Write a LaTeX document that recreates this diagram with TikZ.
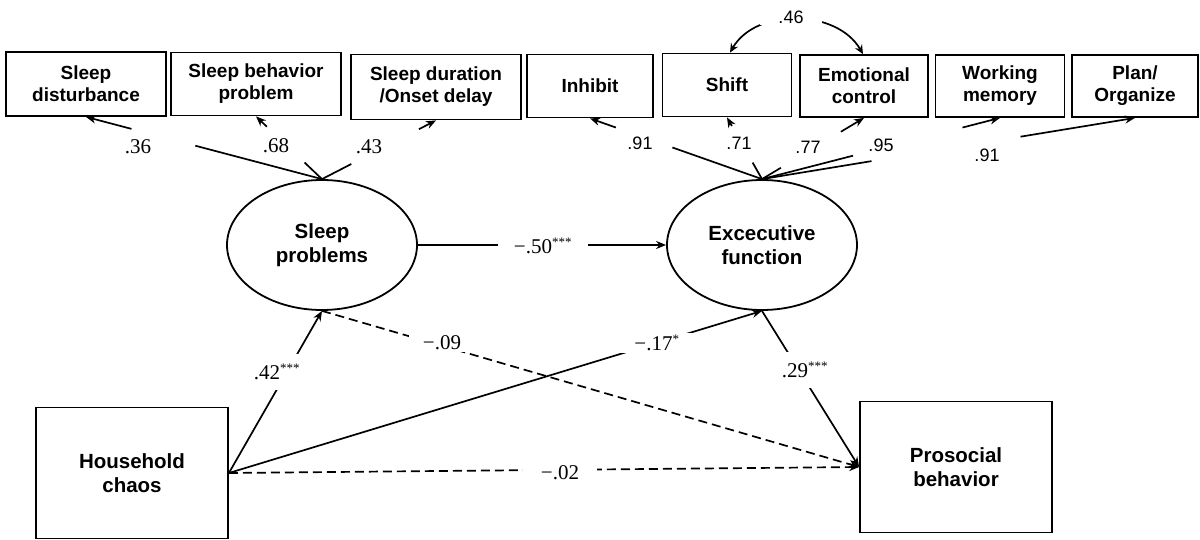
\documentclass[tikz,border=0pt]{standalone}
\usepackage{fontspec}
\setmainfont{Liberation Serif}
\setsansfont{Liberation Sans}
\usetikzlibrary{arrows.meta,shapes.geometric}
\newcommand\mystars[1]{\textsuperscript{\fontsize{13}{13}\selectfont #1}}
\begin{document}
\begin{tikzpicture}[x=1pt,y=-1pt,
 obs/.style={draw,line width=1.8pt,rectangle,inner sep=0pt,align=center,font=\sffamily\bfseries\fontsize{19}{22}\selectfont},
 big/.style={draw,line width=1.8pt,rectangle,minimum width=192pt,minimum height=131pt,inner sep=0pt,align=center,font=\sffamily\bfseries\fontsize{20.5}{24}\selectfont},
 lat/.style={draw,line width=1.8pt,ellipse,minimum width=190pt,minimum height=130pt,inner sep=0pt,align=center,font=\sffamily\bfseries\fontsize{20.5}{24}\selectfont},
 ln/.style={line width=1.7pt},
 arr/.style={ln,-{Stealth[length=10pt,width=8pt]}},
 dsh/.style={arr,dash pattern=on 9pt off 5pt},
 coef/.style={fill=white,inner sep=2pt,font=\fontsize{21}{24}\selectfont},
 coefs/.style={fill=white,inner sep=2pt,font=\sffamily\fontsize{18}{20}\selectfont}]
\useasboundingbox (0,0) rectangle (1200,540);

% indicators
\node[obs,minimum width=160pt,minimum height=64pt] (sd) at (86,84) {Sleep\\disturbance};
\node[obs,minimum width=170pt,minimum height=63pt] (sbp) at (256,84) {Sleep behavior\\problem};
\node[obs,minimum width=170pt,minimum height=65pt] (sdo) at (436,87) {Sleep duration\\/Onset delay};
\node[obs,minimum width=126pt,minimum height=63pt] (inh) at (590,86) {Inhibit};
\node[obs,minimum width=129pt,minimum height=63pt] (shift) at (727,85) {Shift};
\node[obs,minimum width=128pt,minimum height=62pt] (ec) at (864,86) {Emotional\\control};
\node[obs,minimum width=129pt,minimum height=62pt] (wm) at (1000,86) {Working\\memory};
\node[obs,minimum width=126pt,minimum height=62pt] (plan) at (1135,86) {Plan/\\Organize};

% latent
\node[lat] (sp) at (322,245) {Sleep\\problems};
\node[lat] (ef) at (762,245) {Excecutive\\function};

% observed
\node[big] (hc) at (132,473) {Household\\chaos};
\node[big] (pb) at (956,467) {Prosocial\\behavior};

% loadings (broken lines as in the original)
\draw[arr,dash pattern=on 131pt off 66pt on 200pt] (sp.north) -- (sd.south);
\draw[arr,dash pattern=on 24pt off 52pt on 40pt] (sp.north) -- (sbp.south);
\draw[arr,dash pattern=on 33pt off 76pt on 40pt] (sp.north) -- (sdo.south);
\draw[arr,dash pattern=on 95pt off 60pt on 40pt] (ef.north) -- (inh.south);
\draw[arr,dash pattern=on 19pt off 42pt on 20pt] (ef.north) -- (shift.south);
\draw[arr,dash pattern=on 22pt off 70pt on 40pt] (ef.north) -- (ec.south);
\draw[arr,dash pattern=on 94pt off 113pt on 50pt] (ef.north) -- (wm.south);
\draw[arr,dash pattern=on 111pt off 151pt on 130pt] (ef.north) -- (plan.south);

\node[coef] (l1) at (138,147) {.36};
\node[coef] (l2) at (276,146) {.68};
\node[coef] (l3) at (369,147) {.43};
\node[coefs] (l4) at (640,143) {.91};
\node[coefs] (l5) at (739,143) {.71};
\node[coefs] (l6) at (808,147) {.77};
\node[coefs] (l7) at (881,145) {.95};
\node[coefs] (l8) at (987,155) {.91};

% covariance
\draw[ln,{Stealth[length=9pt,width=8pt]}-{Stealth[length=9pt,width=8pt]}] ([xshift=3pt]shift.north) to[out=60,in=120] ([xshift=-1pt]ec.north);
\node[coefs,inner xsep=18pt] (cov) at (791,17) {.46};

% structural paths
\draw[dsh] (sp.south) -- (pb.west);
\draw[dsh] (hc.east) -- (pb.west);
\draw[arr] (sp.east) -- (ef.west);
\draw[arr] (hc.east) -- (sp.south);
\draw[arr] (hc.east) -- (ef.south);
\draw[arr] (ef.south) -- (pb.west);

\node[coef,inner xsep=16pt] (p1) at (543,246) {−.50\mystars{***}};
\node[coef,inner ysep=10pt] (p2) at (277,372) {.42\mystars{***}};
\node[coef,inner xsep=14pt] (p3) at (442,343) {−.09};
\node[coef,inner xsep=18pt] (p4) at (657,343) {−.17\mystars{*}};
\node[coef,inner ysep=10pt] (p5) at (805,370) {.29\mystars{***}};
\node[coef,inner xsep=18pt] (p6) at (560,473) {−.02};
\end{tikzpicture}
\end{document}
